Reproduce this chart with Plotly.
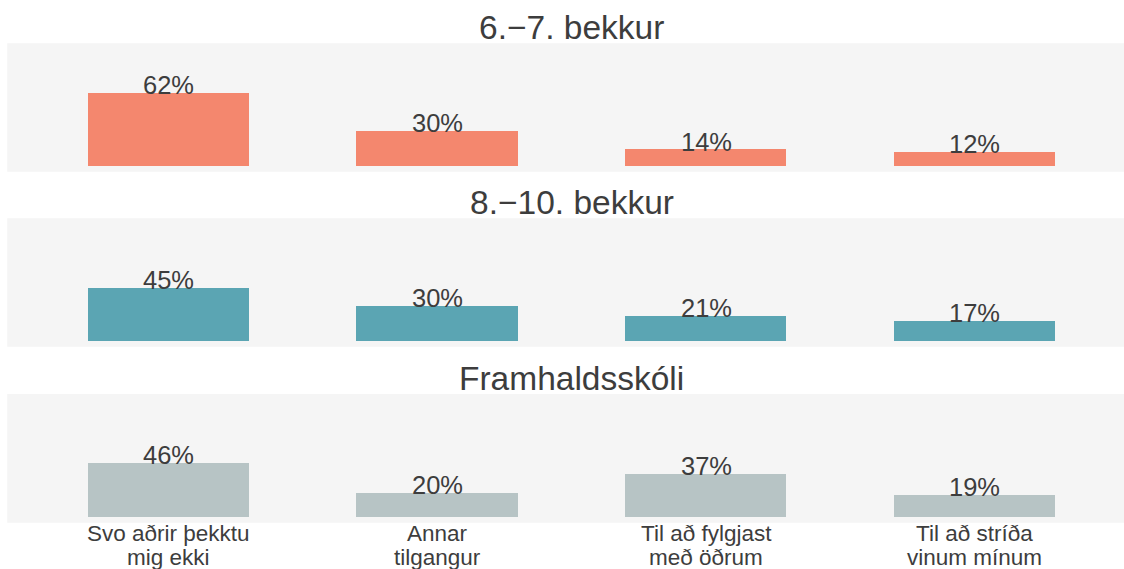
import plotly.graph_objects as go

# Categories (two display lines each) and the share per school level
cat_keys = ["Svo aðrir þekktu mig ekki", "Annar tilgangur",
            "Til að fylgjast með öðrum", "Til að stríða vinum mínum"]
cat_line1 = ["Svo aðrir þekktu", "Annar", "Til að fylgjast", "Til að stríða"]
cat_line2 = ["mig ekki", "tilgangur", "með öðrum", "vinum mínum"]

groups = ["6.−7. bekkur", "8.−10. bekkur", "Framhaldsskóli"]
values_67 = [62, 30, 14, 12]
values_810 = [45, 30, 21, 17]
values_fram = [46, 20, 37, 19]
series = [values_67, values_810, values_fram]
colors = ["#F4876E", "#5BA5B3", "#B7C4C5"]

W, H = 1124, 569
FONT = "Liberation Sans, Arial, sans-serif"
TXT = "#3D3D3D"
PANEL_BG = "#F5F5F5"

# panel vertical extents in pixels (top, bottom)
panels_px = [(43.3, 171.7), (218.3, 346.7), (394.0, 522.7)]
x_left_px = 7.2

fig = go.Figure()
annotations = []
shapes = []

for i, (grp, vals, col) in enumerate(zip(groups, series, colors)):
    k = i + 1
    xa = "x" if k == 1 else f"x{k}"
    ya = "y" if k == 1 else f"y{k}"
    top, bot = panels_px[i]
    dom = [1 - bot / H, 1 - top / H]

    fig.add_trace(go.Bar(
        x=cat_keys, y=vals, marker_color=col, marker_line_width=0,
        width=0.6, xaxis=xa, yaxis=ya, showlegend=False, hoverinfo="x+y",
    ))

    fig.layout[f"xaxis{'' if k == 1 else k}"] = dict(
        domain=[x_left_px / W, 1], anchor=ya, type="category",
        range=[-0.6, 3.555], showgrid=False, zeroline=False,
        showticklabels=False, ticks="", showline=False, fixedrange=True,
    )
    fig.layout[f"yaxis{'' if k == 1 else k}"] = dict(
        domain=dom, anchor=xa, range=[-5, 105], showgrid=False,
        zeroline=False, showticklabels=False, ticks="", showline=False,
        fixedrange=True,
    )

    # panel background
    shapes.append(dict(type="rect", xref="paper", yref="paper",
                       x0=x_left_px / W, x1=1, y0=dom[0], y1=dom[1],
                       fillcolor=PANEL_BG, line_width=0, layer="below"))

    # panel title
    annotations.append(dict(
        text=grp, xref="paper", yref="paper", x=(x_left_px + 1136) / 2 / W,
        y=dom[1], yanchor="bottom", xanchor="center", yshift=-5,
        showarrow=False, font=dict(family=FONT, size=33.5, color=TXT),
    ))

    # value labels sitting on the bar tops
    for c, v in zip(cat_keys, vals):
        annotations.append(dict(
            text=f"{v}%", x=c, y=v, xref=xa, yref=ya,
            yanchor="bottom", xanchor="center", yshift=-8,
            showarrow=False, font=dict(family=FONT, size=25.5, color=TXT),
        ))

# category labels under the bottom panel
for c, l1, l2 in zip(cat_keys, cat_line1, cat_line2):
    annotations.append(dict(text=l1, x=c, xref="x3", yref="paper",
                            y=1 - 533.5 / H, yanchor="middle", xanchor="center",
                            showarrow=False,
                            font=dict(family=FONT, size=22.5, color=TXT)))
    annotations.append(dict(text=l2, x=c, xref="x3", yref="paper",
                            y=1 - 557.5 / H, yanchor="middle", xanchor="center",
                            showarrow=False,
                            font=dict(family=FONT, size=22.5, color=TXT)))

fig.update_layout(
    width=W, height=H, margin=dict(l=0, r=0, t=0, b=0),
    paper_bgcolor="white", plot_bgcolor="rgba(0,0,0,0)",
    annotations=annotations, shapes=shapes, bargap=0,
    font=dict(family=FONT, color=TXT),
)

fig.write_html("out.html")
